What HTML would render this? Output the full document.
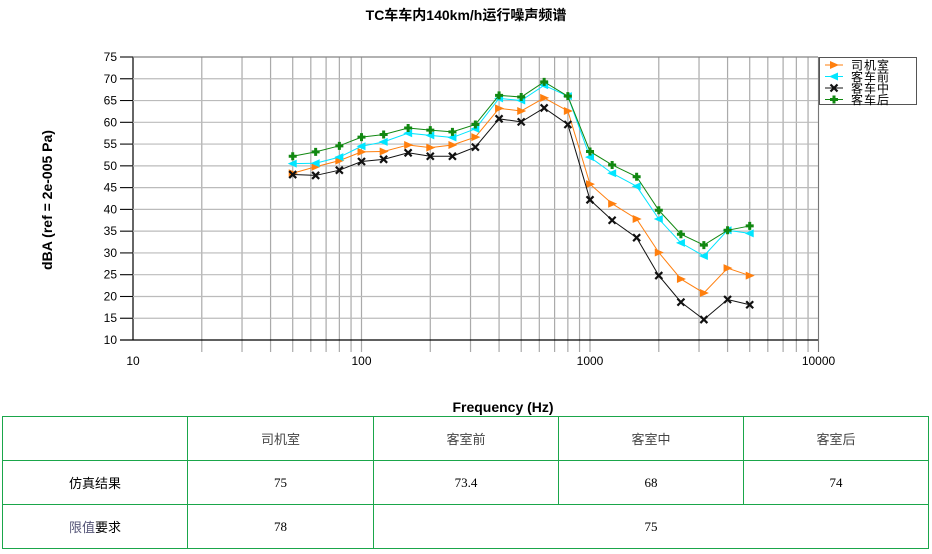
<!DOCTYPE html>
<html><head><meta charset="utf-8">
<style>
body{margin:0;background:#fff;width:932px;height:554px;overflow:hidden;font-family:"Liberation Sans","Noto Sans CJK SC",sans-serif;}
svg{position:absolute;left:0;top:0}
table{position:absolute;left:2px;top:416px;border-collapse:collapse;font-family:"Liberation Serif","Noto Sans CJK SC",serif;font-size:13px;color:#000}
td{border:1.5px solid #1aa64a;text-align:center;height:43px;padding:0}
</style></head><body>
<svg id="s" width="932" height="554" xmlns="http://www.w3.org/2000/svg"></svg>
<table>
<tr><td style="width:184px"></td><td style="width:185px;color:#444">司机室</td><td style="width:184px;color:#444">客室前</td><td style="width:184px;color:#444">客室中</td><td style="width:184px;color:#444">客室后</td></tr>
<tr><td>仿真结果</td><td>75</td><td>73.4</td><td>68</td><td>74</td></tr>
<tr><td><span style="color:#557">限值</span>要求</td><td>78</td><td colspan="3">75</td></tr>
</table>
<script>
const s=document.getElementById('s');let h='';
const X=f=>133+228.5*Math.log10(f/10), Y=v=>57+(75-v)*4.354;
h+='<text x="466" y="20" text-anchor="middle" font-size="14" font-weight="bold" font-family="Liberation Sans,Noto Sans CJK SC,sans-serif">TC车车内140km/h运行噪声频谱</text>';
for(let d=10;d<10000;d*=10)for(let k=1;k<=10;k++){const x=X(d*k);if(k>1||d==10){h+=`<line x1="${x}" y1="57" x2="${x}" y2="${k==1&&d==10?340:352}" stroke="${k==1&&d==10?'#000':'#aaa'}" stroke-width="1.2"/>`;}}
h+=`<line x1="${X(10000)}" y1="57" x2="${X(10000)}" y2="352" stroke="#777"/>`;
for(let v=10;v<=75;v+=5){const y=Y(v);h+=`<line x1="120" y1="${y}" x2="818" y2="${y}" stroke="${v==10?'#000':'#bbb'}" stroke-width="1.2"/><line x1="120" y1="${y}" x2="133" y2="${y}" stroke="#000"/><text x="117" y="${y+4}" text-anchor="end" font-size="12">${v}</text>`;}
h+=`<line x1="133" y1="57" x2="818" y2="57" stroke="#777"/>`;
[[10,'10'],[100,'100'],[1000,'1000'],[10000,'10000']].forEach(([f,t])=>h+=`<text x="${X(f)}" y="365" text-anchor="middle" font-size="12">${t}</text>`);
h+='<text x="503" y="412" text-anchor="middle" font-size="14" font-weight="bold">Frequency (Hz)</text>';
h+='<text transform="translate(52,200) rotate(-90)" text-anchor="middle" font-size="14" font-weight="bold">dBA (ref = 2e-005 Pa)</text>';
const F=[50,63,80,100,125,160,200,250,315,400,500,630,800,1000,1250,1600,2000,2500,3150,4000,5000];
const S=[
['#ff7f0e','tr',[48.3,49.8,51.2,53.2,53.3,54.8,54.2,54.8,56.6,63.2,62.6,65.6,62.6,45.8,41.3,37.8,30.1,24,20.8,26.5,24.8]],
['#00e5ff','tl',[50.5,50.6,52,54.5,55.5,57.5,57,56.5,58.5,65.5,65,68.5,66,52,48.3,45.3,37.8,32.3,29.3,35.2,34.5]],
['#111','x',[48,47.8,49,51,51.5,53,52.2,52.2,54.3,60.8,60.1,63.3,59.5,42.2,37.5,33.5,24.8,18.7,14.7,19.3,18.1]],
['#118811','p',[52.2,53.2,54.6,56.6,57.2,58.7,58.2,57.8,59.5,66.2,65.8,69.3,66,53.3,50.2,47.5,39.8,34.3,31.8,35.2,36.2]]];
function mk(t,x,y,c){if(t=='tr')return `<polygon points="${x-4},${y-4} ${x+5},${y} ${x-4},${y+4}" fill="${c}"/>`;
if(t=='tl')return `<polygon points="${x+4},${y-4} ${x-5},${y} ${x+4},${y+4}" fill="${c}"/>`;
if(t=='x')return `<path d="M${x-3.5} ${y-3.5}L${x+3.5} ${y+3.5}M${x+3.5} ${y-3.5}L${x-3.5} ${y+3.5}" stroke="${c}" stroke-width="2.2"/>`;
return `<path d="M${x-4} ${y}H${x+4}M${x} ${y-4}V${y+4}" stroke="${c}" stroke-width="3"/>`;}
S.forEach(([c,t,d])=>{h+=`<polyline fill="none" stroke="${c}" stroke-width="1" points="${d.map((v,i)=>X(F[i])+','+Y(v)).join(' ')}"/>`;d.forEach((v,i)=>h+=mk(t,X(F[i]),Y(v),c));});
h+='<rect x="819.5" y="57.5" width="97" height="47" fill="#fff" stroke="#555"/>';
['司机室','客车前','客车中','客车后'].forEach((n,i)=>{const y=65+i*11.5;h+=`<line x1="825" y1="${y}" x2="843" y2="${y}" stroke="${S[i][0]}"/>`+mk(S[i][1],834,y,S[i][0])+`<text x="851" y="${y+4.5}" font-size="12" letter-spacing="1" font-family="Noto Sans CJK SC,sans-serif">${n}</text>`;});
s.innerHTML=h;
</script>
</body></html>
